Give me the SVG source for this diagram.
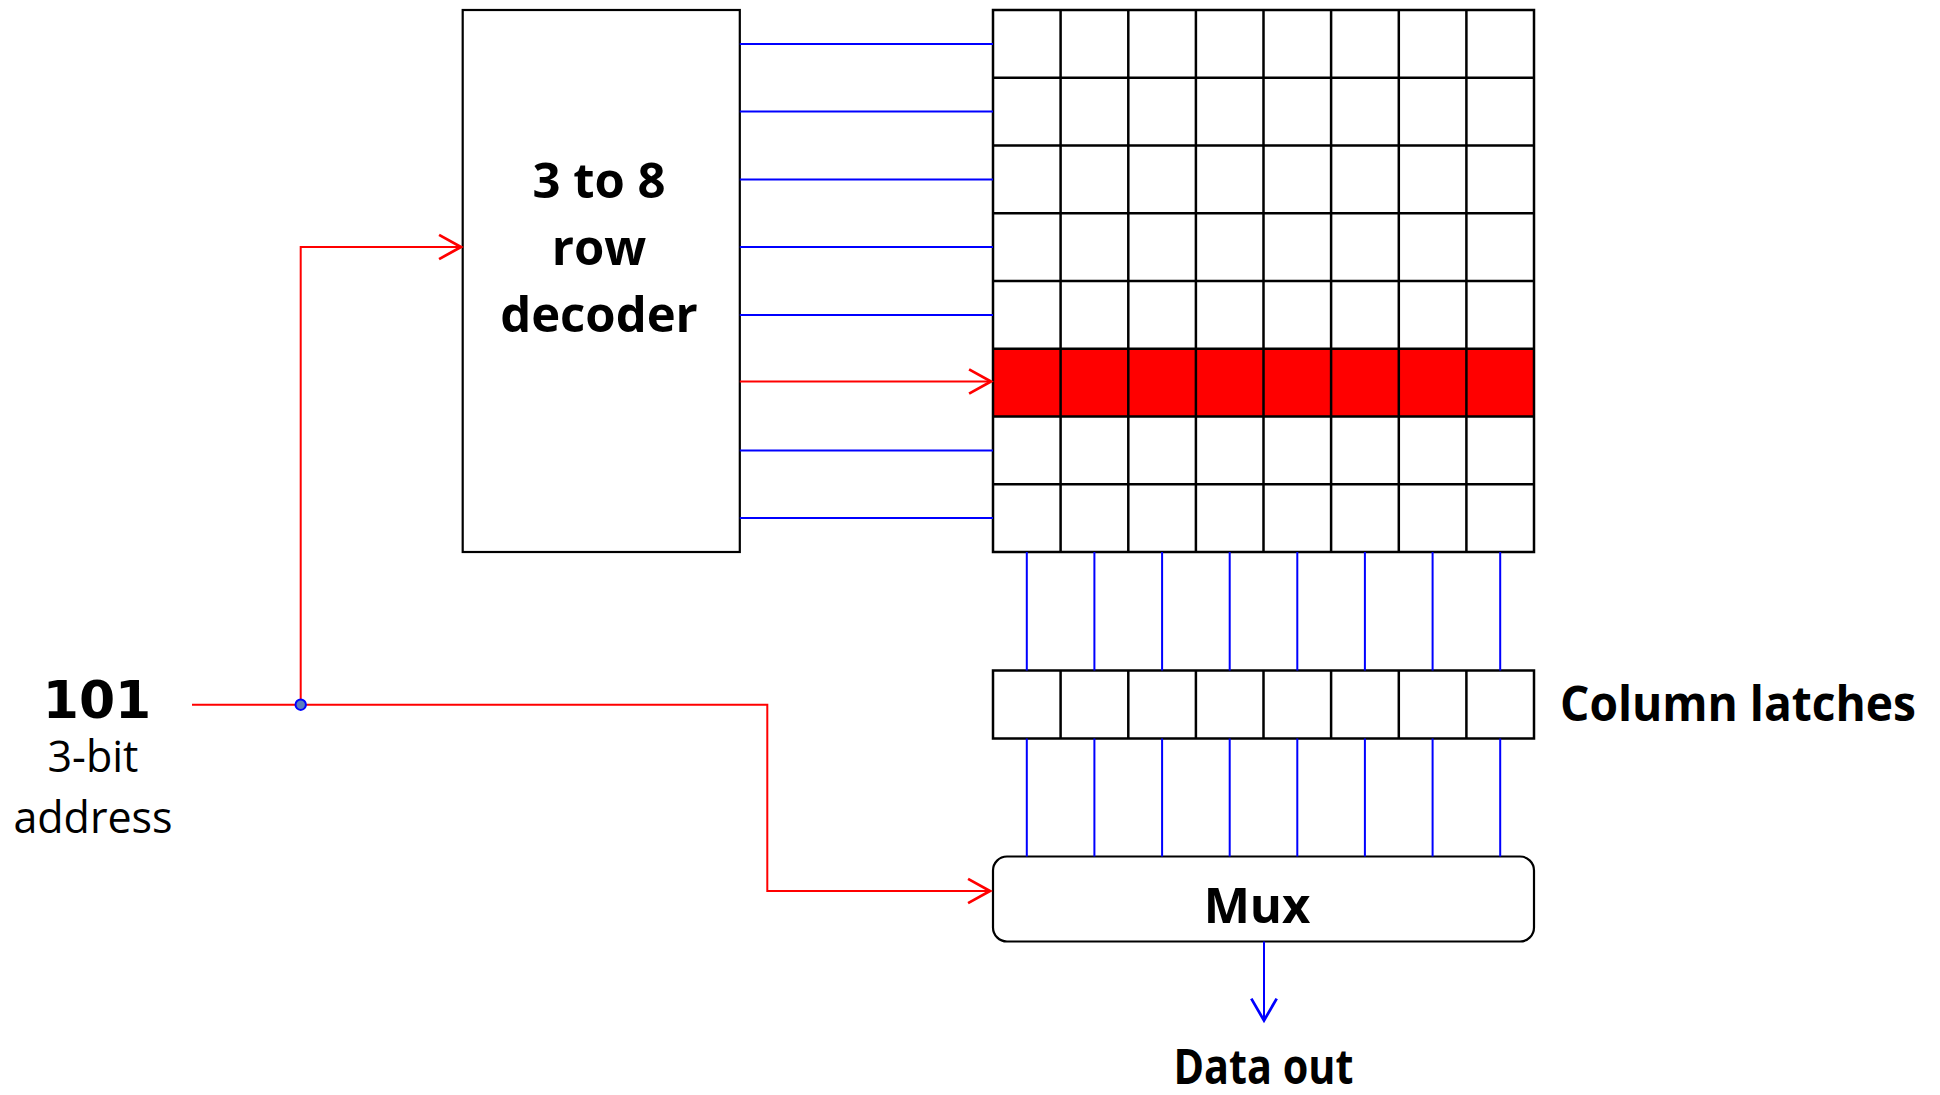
<svg xmlns="http://www.w3.org/2000/svg" width="1940" height="1095" viewBox="0 0 1940 1095">
  <style>
    .box { fill: #ffffff; stroke: #000000; stroke-width: 2.2; }
    .grid { fill: none; stroke: #000000; stroke-width: 2.5; }
    .wire-b { fill: none; stroke: #0000ff; stroke-width: 2; }
    .wire-r { fill: none; stroke: #ff0000; stroke-width: 2; }
    .title { font-family: "Open Sans", "Noto Sans", sans-serif; font-weight: bold; font-size: 49px; fill: #000000; }
    .plain { font-family: "Open Sans", "Noto Sans", sans-serif; font-size: 43px; fill: #000000; }
    .bits { font-family: "DejaVu Sans", "Open Sans", sans-serif; font-weight: bold; font-size: 52px; fill: #000000; }
  </style>
  <defs>
    <marker id="arrow-red" markerUnits="userSpaceOnUse" markerWidth="30" markerHeight="30" viewBox="-22 -13 26 26" refX="0" refY="0" orient="auto">
      <path d="M -19 -10.5 L 0 0 L -19 10.5" fill="none" stroke="#ff0000" stroke-width="2.4"/>
    </marker>
    <marker id="arrow-blue" markerUnits="userSpaceOnUse" markerWidth="30" markerHeight="30" viewBox="-22 -13 26 26" refX="0" refY="0" orient="auto">
      <path d="M -19 -11 L 0 0 L -19 11" fill="none" stroke="#0000ff" stroke-width="2.4"/>
    </marker>
  </defs>

  <rect width="1940" height="1095" fill="#ffffff"/>

  <!-- Row decoder -->
  <g id="decoder">
    <rect class="box" x="462.7" y="10" width="277.1" height="542"/>
    <text class="title" x="599" y="198.3" text-anchor="middle">3 to 8</text>
    <text class="title" x="599" y="265" text-anchor="middle">row</text>
    <text class="title" x="599" y="331.7" text-anchor="middle" font-size="48">decoder</text>
  </g>

  <!-- 8x8 memory cell array, selected row highlighted -->
  <g id="cell-array">
    <rect x="993" y="10" width="541" height="542" fill="#ffffff"/>
    <rect id="selected-row" x="993" y="348.75" width="541" height="67.75" fill="#ff0000"/>
    <path class="grid" d="M993 10H1534V552H993Z
      M1060.6 10V552 M1128.3 10V552 M1195.9 10V552 M1263.5 10V552
      M1331.1 10V552 M1398.8 10V552 M1466.4 10V552
      M993 77.75H1534 M993 145.5H1534 M993 213.25H1534 M993 281H1534
      M993 348.75H1534 M993 416.5H1534 M993 484.25H1534"/>
  </g>

  <!-- Column latches -->
  <g id="column-latches">
    <rect x="993" y="670.5" width="541" height="68" fill="#ffffff"/>
    <path class="grid" d="M993 670.5H1534V738.5H993Z
      M1060.6 670.5V738.5 M1128.3 670.5V738.5 M1195.9 670.5V738.5 M1263.5 670.5V738.5
      M1331.1 670.5V738.5 M1398.8 670.5V738.5 M1466.4 670.5V738.5"/>
    <text class="title" x="1560" y="720.5" textLength="356" lengthAdjust="spacingAndGlyphs">Column latches</text>
  </g>

  <!-- Output multiplexer -->
  <g id="mux">
    <rect class="box" x="993" y="856.5" width="541" height="85" rx="14" ry="14"/>
    <text class="title" x="1257" y="923" text-anchor="middle">Mux</text>
  </g>

  <!-- Address input -->
  <g id="address">
    <text class="bits" x="97" y="717.5" text-anchor="middle">101</text>
    <text class="plain" x="93" y="771.7" text-anchor="middle">3-bit</text>
    <text class="plain" x="93" y="833.3" text-anchor="middle">address</text>
  </g>

  <!-- Data output label -->
  <g id="data-out">
    <text class="title" x="1173.5" y="1084" font-size="44" textLength="180" lengthAdjust="spacingAndGlyphs">Data out</text>
  </g>

  <g id="connectors">
    <!-- word lines from decoder to rows -->
    <path class="wire-b" d="M739.8 43.9H993 M739.8 111.6H993 M739.8 179.4H993 M739.8 247.1H993
      M739.8 314.9H993 M739.8 450.4H993 M739.8 518.1H993"/>
    <path class="wire-r" d="M739.8 381.5H991" marker-end="url(#arrow-red)"/>

    <!-- bit lines: array to latches -->
    <path class="wire-b" d="M1026.8 552V670.5 M1094.4 552V670.5 M1162.1 552V670.5 M1229.7 552V670.5
      M1297.3 552V670.5 M1364.9 552V670.5 M1432.6 552V670.5 M1500.2 552V670.5"/>
    <!-- latches to mux -->
    <path class="wire-b" d="M1026.8 738.5V856.5 M1094.4 738.5V856.5 M1162.1 738.5V856.5 M1229.7 738.5V856.5
      M1297.3 738.5V856.5 M1364.9 738.5V856.5 M1432.6 738.5V856.5 M1500.2 738.5V856.5"/>

    <!-- address bus to decoder and mux select -->
    <path class="wire-r" d="M192 704.7H767.3V891H990" marker-end="url(#arrow-red)"/>
    <path class="wire-r" d="M300.7 704.7V247H461" marker-end="url(#arrow-red)"/>
    <circle cx="300.7" cy="704.7" r="5.2" fill="#5a7dbf" stroke="#0000ff" stroke-width="2"/>

    <!-- data output -->
    <path class="wire-b" d="M1264 941.5V1020.5" marker-end="url(#arrow-blue)"/>
  </g>
</svg>
